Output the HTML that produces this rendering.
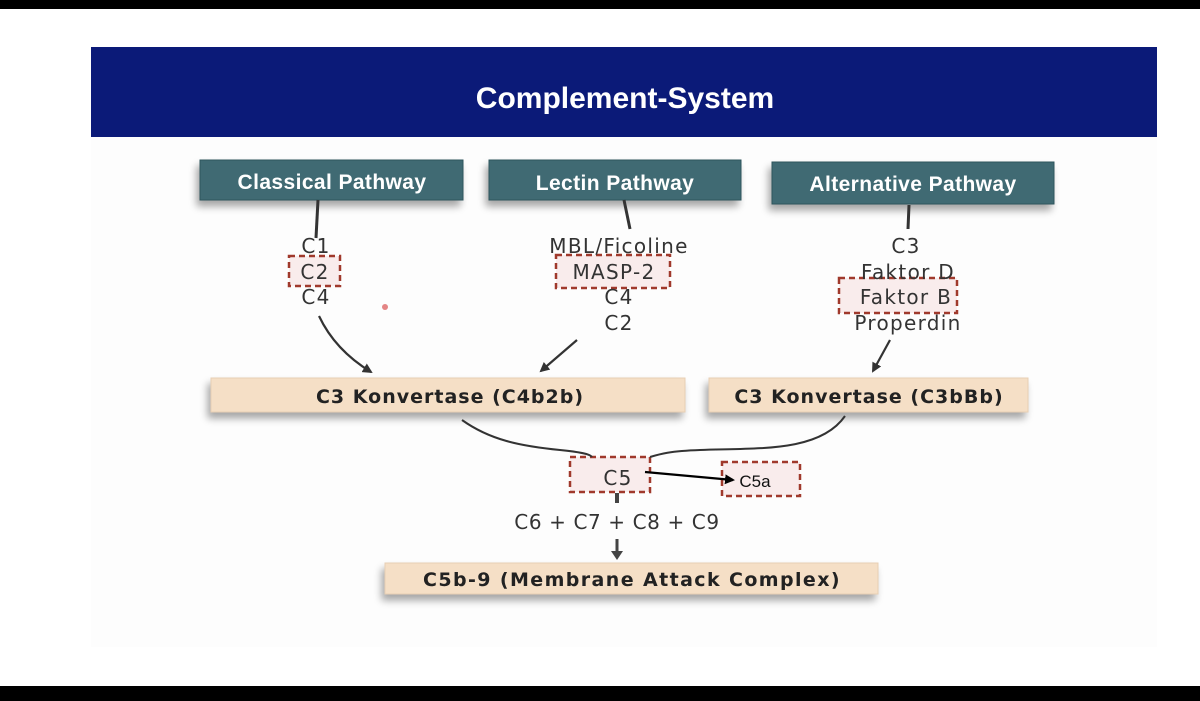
<!DOCTYPE html>
<html><head><meta charset="utf-8"><style>
html,body{margin:0;padding:0;background:#fff;}
svg{display:block}
text{font-family:"Liberation Sans","DejaVu Sans",sans-serif;}
.dv text{font-family:"DejaVu Sans","Liberation Sans",sans-serif;}
</style></head><body>
<svg width="1200" height="701" viewBox="0 0 1200 701" xmlns="http://www.w3.org/2000/svg">
<defs>
<filter id="sh" x="-10%" y="-30%" width="120%" height="180%"><feGaussianBlur in="SourceAlpha" stdDeviation="4"/><feOffset dx="-3" dy="6"/><feComponentTransfer><feFuncA type="linear" slope="0.35"/></feComponentTransfer><feMerge><feMergeNode/><feMergeNode in="SourceGraphic"/></feMerge></filter>
<marker id="ah" markerWidth="10" markerHeight="10" refX="8" refY="5" orient="auto" markerUnits="userSpaceOnUse"><path d="M0,0 L10,5 L0,10 z" fill="#333"/></marker>
<marker id="ab" markerWidth="10" markerHeight="10" refX="8" refY="5" orient="auto" markerUnits="userSpaceOnUse"><path d="M0,0 L10,5 L0,10 z" fill="#000"/></marker>
</defs>
<rect x="0" y="0" width="1200" height="9" fill="#000"/>
<rect x="0" y="686" width="1200" height="15" fill="#000"/>
<rect x="91" y="137" width="1066" height="510" fill="#fdfdfd"/>
<rect x="91" y="47" width="1066" height="90" fill="#0b1a78"/>
<text x="625" y="108" font-size="30" font-weight="bold" fill="#fff" text-anchor="middle">Complement-System</text>

<g filter="url(#sh)">
<rect x="200" y="160" width="263" height="40" fill="#3f6b73" stroke="#2e555c"/>
<rect x="489" y="160" width="252" height="40" fill="#3f6b73" stroke="#2e555c"/>
<rect x="772" y="162" width="282" height="42" fill="#3f6b73" stroke="#2e555c"/>
</g>
<g font-size="21" font-weight="bold" fill="#fff" text-anchor="middle" letter-spacing="0.4">
<text x="332" y="189">Classical Pathway</text>
<text x="615" y="190">Lectin Pathway</text>
<text x="913" y="191">Alternative Pathway</text>
</g>

<g stroke="#333" stroke-width="3">
<line x1="318" y1="200" x2="316" y2="238"/>
<line x1="624" y1="200" x2="630" y2="229"/>
<line x1="909" y1="205" x2="908" y2="229"/>
</g>

<g fill="#f9ecec" stroke="#a0392c" stroke-width="2.5" stroke-dasharray="6,4">
<rect x="289" y="256" width="51" height="30"/>
<rect x="556" y="255" width="114" height="33"/>
<rect x="839" y="278" width="118" height="35"/>
<rect x="570" y="457" width="80" height="35"/>
<rect x="722" y="462" width="78" height="34"/>
</g>

<g class="dv" font-size="20" fill="#333" text-anchor="middle" letter-spacing="1.3">
<text x="316" y="253">C1</text>
<text x="315" y="279">C2</text>
<text x="316" y="304">C4</text>
<text x="619" y="253">MBL/Ficoline</text>
<text x="614" y="279">MASP-2</text>
<text x="619" y="304">C4</text>
<text x="619" y="330">C2</text>
<text x="906" y="253">C3</text>
<text x="908" y="279">Faktor D</text>
<text x="906" y="304">Faktor B</text>
<text x="908" y="330">Properdin</text>
<text x="618" y="485">C5</text>
<text x="617" y="529" letter-spacing="0.6">C6 + C7 + C8 + C9</text>
</g>
<text x="755" y="487" font-size="17" fill="#111" text-anchor="middle">C5a</text>
<circle cx="385" cy="307" r="3" fill="#d66" opacity="0.8"/>

<g stroke="#333" stroke-width="2.2" fill="none" marker-end="url(#ah)">
<path d="M319,316 Q335,350 371,372"/>
<line x1="577" y1="340" x2="541" y2="371"/>
<line x1="890" y1="340" x2="873" y2="371"/>
</g>

<g filter="url(#sh)">
<rect x="211" y="378" width="474" height="34" fill="#f5dfc6" stroke="#e8cfb4"/>
<rect x="709" y="378" width="319" height="34" fill="#f5dfc6" stroke="#e8cfb4"/>
<rect x="385" y="563" width="493" height="31" fill="#f5dfc6" stroke="#e8cfb4"/>
</g>
<g class="dv" font-size="19" font-weight="bold" fill="#222" text-anchor="middle" letter-spacing="1">
<text x="450" y="403">C3 Konvertase (C4b2b)</text>
<text x="869" y="403">C3 Konvertase (C3bBb)</text>
<text x="632" y="586" letter-spacing="1.4">C5b-9 (Membrane Attack Complex)</text>
</g>

<g stroke="#333" stroke-width="2" fill="none">
<path d="M462,420 C490,440 520,446 560,450 C580,452 590,454 592,457"/>
<path d="M845,416 C820,452 760,448 700,450 C670,451 660,454 650,457"/>
</g>
<line x1="645" y1="472" x2="733" y2="480" stroke="#000" stroke-width="2.2" marker-end="url(#ab)"/>
<line x1="617" y1="493" x2="617" y2="503" stroke="#444" stroke-width="4"/>
<line x1="617" y1="539" x2="617" y2="552" stroke="#444" stroke-width="3"/>
<path d="M611,551 L623,551 L617,560 z" fill="#444"/>
</svg>
</body></html>
